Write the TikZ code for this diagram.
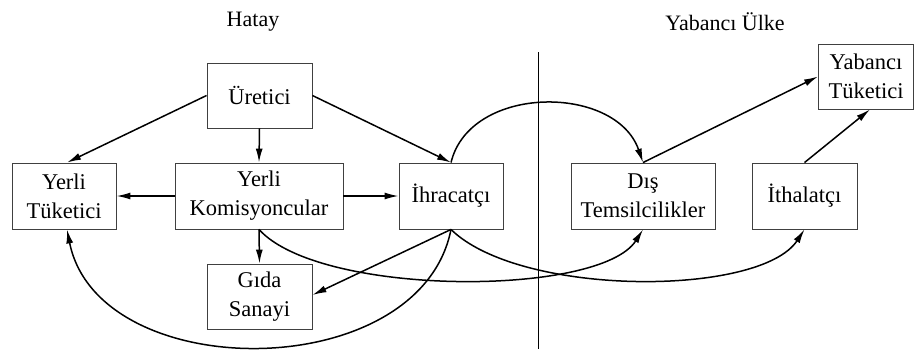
\documentclass[tikz,border=0pt]{standalone}
\usepackage{fontspec}
\setmainfont{Liberation Serif}
\usetikzlibrary{arrows.meta}
\begin{document}
\begin{tikzpicture}[x=1pt,y=-1pt,
  box/.style={draw=black!75,line width=0.9pt,align=center,inner sep=0pt,
    font=\fontsize{22.5}{29}\selectfont},
  lbl/.style={font=\fontsize{22}{26}\selectfont},
  arr/.style={line width=1.5pt,-{Latex[length=14pt,width=7pt]}},
  divider/.style={line width=0.8pt}]
\useasboundingbox (0,0) rectangle (914,349);
\node[lbl] (hatay) at (253,22) {Hatay};
\node[lbl] (yabulke) at (725,22) {Yabancı Ülke};
\coordinate (vtop) at (538,52);
\coordinate (vbot) at (538,349);
\draw[divider] (vtop) -- (vbot);

\node[box,minimum width=105pt,minimum height=65pt] (ure) at (259.5,95.5) {Üretici};
\node[box,minimum width=104pt,minimum height=66pt] (yt) at (64,196) {Yerli\\Tüketici};
\node[box,minimum width=168pt,minimum height=66pt] (kom) at (259,196) {Yerli\\Komisyoncular};
\node[box,minimum width=104pt,minimum height=66pt] (ihr) at (451,196) {İhracatçı};
\node[box,minimum width=105pt,minimum height=65pt] (gida) at (259.5,296.5) {Gıda\\Sanayi};
\node[box,minimum width=144pt,minimum height=66pt] (dis) at (643,196) {Dış\\Temsilcilikler};
\node[box,minimum width=105pt,minimum height=66pt] (ith) at (804.5,196) {İthalatçı};
\node[box,minimum width=95pt,minimum height=65pt] (yabt) at (866,76.5) {Yabancı\\Tüketici};

\draw[arr] (ure.west) -- ([xshift=3pt]yt.north);
\draw[arr] (ure.south) -- (kom.north);
\draw[arr] (ure.east) -- (ihr.north);
\draw[arr] (kom.west) -- (yt.east);
\draw[arr] (kom.east) -- (ihr.west);
\draw[arr] (kom.south) -- (gida.north);
\draw[arr] (ihr.south) -- ([yshift=1.5pt]gida.east);
\draw[arr] (dis.north) -- (yabt.west);
\draw[arr] (ith.north) -- ([xshift=4pt]yabt.south);

\draw[arr] (ihr.north) .. controls (470,84) and (616,84) .. (dis.north);
\draw[arr] (ihr.south) .. controls (420,386) and (98,386) .. ([xshift=3pt]yt.south);
\draw[arr] (kom.south) .. controls (320,297) and (600,297) .. (dis.south);
\draw[arr] (ihr.south) .. controls (520,297) and (760,297) .. (ith.south);
\end{tikzpicture}
\end{document}
